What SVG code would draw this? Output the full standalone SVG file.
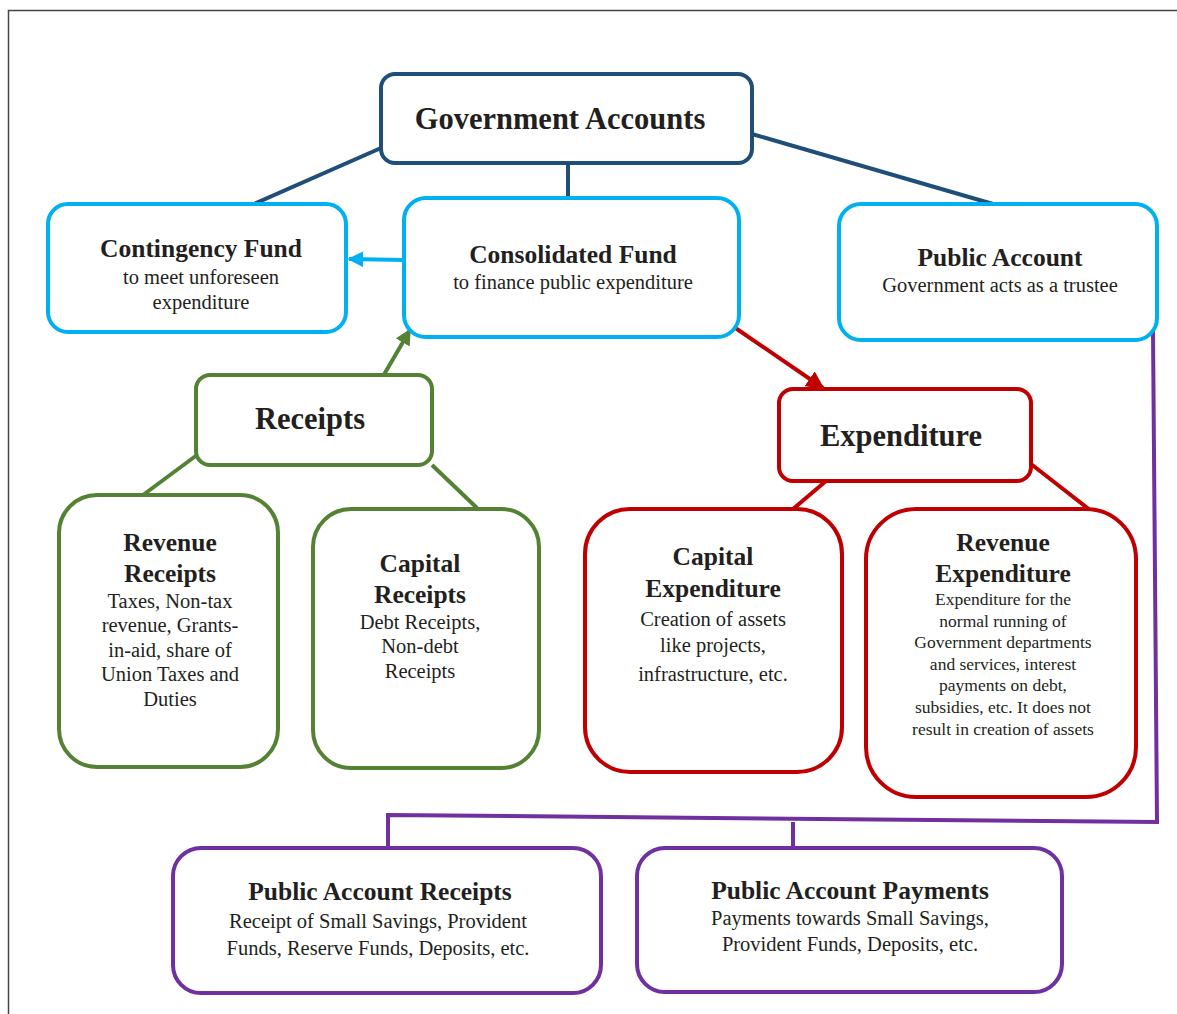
<svg xmlns="http://www.w3.org/2000/svg" width="1177" height="1014" viewBox="0 0 1177 1014">
<style>
  text { font-family: "Liberation Serif", "Times New Roman", serif; fill: #231f20; text-anchor: middle; }
  .t30 { font-size: 30.5px; font-weight: bold; }
  .t25 { font-size: 25.5px; font-weight: bold; }
  .b20 { font-size: 20.5px; }
  .b16 { font-size: 17.5px; }
  .box { fill: #ffffff; stroke-width: 4; }
  .navy { stroke: #1f4e79; }
  .blue { stroke: #00b0f0; }
  .green { stroke: #548235; }
  .red { stroke: #c00000; }
  .purple { stroke: #7030a0; }
  .ln { fill: none; stroke-width: 4; }
</style>
<defs>
  <marker id="ahBlue" viewBox="0 0 10 10" refX="9" refY="5" markerWidth="4" markerHeight="4" orient="auto" markerUnits="strokeWidth">
    <path d="M0,0 L10,5 L0,10 z" fill="#00b0f0"/>
  </marker>
  <marker id="ahGreen" viewBox="0 0 10 10" refX="9" refY="5" markerWidth="4" markerHeight="4" orient="auto" markerUnits="strokeWidth">
    <path d="M0,0 L10,5 L0,10 z" fill="#548235"/>
  </marker>
  <marker id="ahRed" viewBox="0 0 10 10" refX="9" refY="5" markerWidth="4.5" markerHeight="4.5" orient="auto" markerUnits="strokeWidth">
    <path d="M0,0 L10,5 L0,10 z" fill="#c00000"/>
  </marker>
</defs>
<rect width="1177" height="1014" fill="#ffffff"/>
<path d="M8.5,1014 L8.5,10.5 L1177,10.5" fill="none" stroke="#444" stroke-width="1.5"/>

<g id="connectors">
  <line class="ln navy" x1="381" y1="148" x2="254" y2="204"/>
  <line class="ln navy" x1="568" y1="163" x2="568" y2="202"/>
  <line class="ln navy" x1="752" y1="134" x2="993" y2="204"/>
  <line class="ln blue" x1="404" y1="260" x2="349" y2="259" marker-end="url(#ahBlue)"/>
  <line class="ln green" x1="382" y1="378" x2="410" y2="330" marker-end="url(#ahGreen)"/>
  <line class="ln green" x1="197" y1="455" x2="143" y2="495"/>
  <line class="ln green" x1="432" y1="465" x2="477" y2="508"/>
  <line class="ln red" x1="734" y1="327" x2="823" y2="388" marker-end="url(#ahRed)"/>
  <line class="ln red" x1="826" y1="481" x2="793" y2="509"/>
  <line class="ln red" x1="1031" y1="464" x2="1090" y2="510"/>
  <polyline class="ln purple" points="1153,330 1157,822 388,815 388,848"/>
  <line class="ln purple" x1="793" y1="822" x2="793" y2="848"/>
</g>

<g id="government-accounts">
  <rect class="box navy" x="381" y="74" width="371" height="89" rx="14"/>
  <text class="t30" x="560" y="129">Government Accounts</text>
</g>

<g id="contingency-fund">
  <rect class="box blue" x="48" y="204" width="298" height="128" rx="20"/>
  <text class="t25" x="201" y="257">Contingency Fund</text>
  <text class="b20" x="201" y="284">to meet unforeseen</text>
  <text class="b20" x="201" y="309">expenditure</text>
</g>

<g id="consolidated-fund">
  <rect class="box blue" x="404" y="198" width="335" height="139" rx="22"/>
  <text class="t25" x="573" y="263">Consolidated Fund</text>
  <text class="b20" x="573" y="289">to finance public expenditure</text>
</g>

<g id="public-account">
  <rect class="box blue" x="839" y="204" width="318" height="136" rx="22"/>
  <text class="t25" x="1000" y="266">Public Account</text>
  <text class="b20" x="1000" y="292">Government acts as a trustee</text>
</g>

<g id="receipts">
  <rect class="box green" x="196" y="375" width="236" height="90" rx="14"/>
  <text class="t30" x="310" y="429">Receipts</text>
</g>

<g id="revenue-receipts">
  <rect class="box green" x="59" y="495" width="219" height="272" rx="38"/>
  <text class="t25" x="170" y="551">Revenue</text>
  <text class="t25" x="170" y="582">Receipts</text>
  <text class="b20" x="170" y="608">Taxes, Non-tax</text>
  <text class="b20" x="170" y="632">revenue, Grants-</text>
  <text class="b20" x="170" y="657">in-aid, share of</text>
  <text class="b20" x="170" y="681">Union Taxes and</text>
  <text class="b20" x="170" y="706">Duties</text>
</g>

<g id="capital-receipts">
  <rect class="box green" x="313" y="509" width="226" height="259" rx="38"/>
  <text class="t25" x="420" y="572">Capital</text>
  <text class="t25" x="420" y="603">Receipts</text>
  <text class="b20" x="420" y="629">Debt Receipts,</text>
  <text class="b20" x="420" y="653">Non-debt</text>
  <text class="b20" x="420" y="678">Receipts</text>
</g>

<g id="expenditure">
  <rect class="box red" x="779" y="389" width="252" height="92" rx="14"/>
  <text class="t30" x="901" y="446">Expenditure</text>
</g>

<g id="capital-expenditure">
  <rect class="box red" x="585" y="509" width="257" height="263" rx="45"/>
  <text class="t25" x="713" y="565">Capital</text>
  <text class="t25" x="713" y="597">Expenditure</text>
  <text class="b20" x="713" y="626">Creation of assets</text>
  <text class="b20" x="713" y="652">like projects,</text>
  <text class="b20" x="713" y="681">infrastructure, etc.</text>
</g>

<g id="revenue-expenditure">
  <rect class="box red" x="866" y="509" width="270" height="288" rx="50"/>
  <text class="t25" x="1003" y="551">Revenue</text>
  <text class="t25" x="1003" y="582">Expenditure</text>
  <text class="b16" x="1003" y="605">Expenditure for the</text>
  <text class="b16" x="1003" y="627">normal running of</text>
  <text class="b16" x="1003" y="648">Government departments</text>
  <text class="b16" x="1003" y="670">and services, interest</text>
  <text class="b16" x="1003" y="691">payments on debt,</text>
  <text class="b16" x="1003" y="713">subsidies, etc. It does not</text>
  <text class="b16" x="1003" y="735">result in creation of assets</text>
</g>

<g id="public-account-receipts">
  <rect class="box purple" x="173" y="848" width="428" height="145" rx="28"/>
  <text class="t25" x="380" y="900">Public Account Receipts</text>
  <text class="b20" x="378" y="928">Receipt of Small Savings, Provident</text>
  <text class="b20" x="378" y="955">Funds, Reserve Funds, Deposits, etc.</text>
</g>

<g id="public-account-payments">
  <rect class="box purple" x="637" y="848" width="425" height="144" rx="28"/>
  <text class="t25" x="850" y="899">Public Account Payments</text>
  <text class="b20" x="850" y="925">Payments towards Small Savings,</text>
  <text class="b20" x="850" y="951">Provident Funds, Deposits, etc.</text>
</g>
</svg>
